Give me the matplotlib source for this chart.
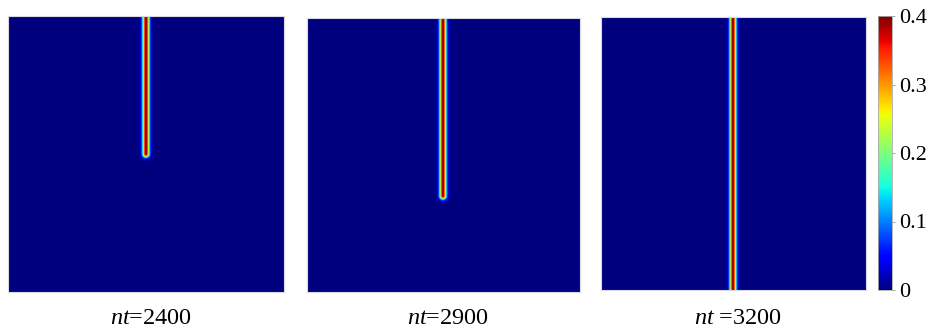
import numpy as np
import matplotlib
matplotlib.use("Agg")
import matplotlib.pyplot as plt
from matplotlib import colors

plt.rcParams['mathtext.fontset'] = 'custom'
plt.rcParams['mathtext.rm'] = 'Liberation Serif'
plt.rcParams['mathtext.it'] = 'Liberation Serif:italic'
plt.rcParams['font.family'] = ['Liberation Serif', 'DejaVu Serif']

# Data: crack state at each time step
labels = [r'$nt$=2400', r'$nt$=2900', r'$nt$ =3200']
crack_x = [0.50, 0.498, 0.498]       # crack position (fraction of width)
crack_tip = [0.50, 0.65, 1.0]        # crack depth from top (fraction of height)
peak_value = 0.4
half_width = 0.0125
vmin, vmax = 0.0, 0.4
cbar_ticks = [0, 0.1, 0.2, 0.3, 0.4]
cbar_ticklabels = ['0', '0.1', '0.2', '0.3', '0.4']

N = 400
yy, xx = np.mgrid[0:1:N * 1j, 0:1:N * 1j]

def field(cx, tip):
    dx = xx - cx
    dy = np.clip(yy - tip, 0, None)
    r = np.sqrt(dx ** 2 + dy ** 2)
    return peak_value * np.exp(-(r / half_width) ** 2)

fig = plt.figure(figsize=(9.28, 3.29), dpi=100)
W, H = 928, 329
boxes = [(8, 16, 284, 292), (307, 18, 580, 292), (601, 17, 866, 290)]
for (x0, y0, x1, y1), cx, tip, lab in zip(boxes, crack_x, crack_tip, labels):
    ax = fig.add_axes([x0 / W, 1 - y1 / H, (x1 - x0) / W, (y1 - y0) / H])
    ax.imshow(field(cx, tip), cmap='jet', vmin=vmin, vmax=vmax,
              extent=[0, 1, 1, 0], interpolation='bilinear', aspect='auto')
    ax.set_xticks([])
    ax.set_yticks([])
    for s in ax.spines.values():
        s.set_color('#d8d8e0')
        s.set_linewidth(0.8)
    fig.text((x0 + x1) / 2 / W + 5 / W, 1 - 324 / H, lab, ha='center',
             va='baseline', fontsize=17.5)

cax = fig.add_axes([878 / W, 1 - 290 / H, 14 / W, 274 / H])
sm = plt.cm.ScalarMappable(norm=colors.Normalize(vmin, vmax), cmap='jet')
cb = fig.colorbar(sm, cax=cax, ticks=cbar_ticks)
cb.ax.set_yticklabels(cbar_ticklabels)
cb.ax.tick_params(labelsize=16, length=2, width=0.6, color='#999999', pad=3)
cb.outline.set_edgecolor('#aaaaaa')
cb.outline.set_linewidth(0.6)

fig.savefig('out.png', dpi=100)
